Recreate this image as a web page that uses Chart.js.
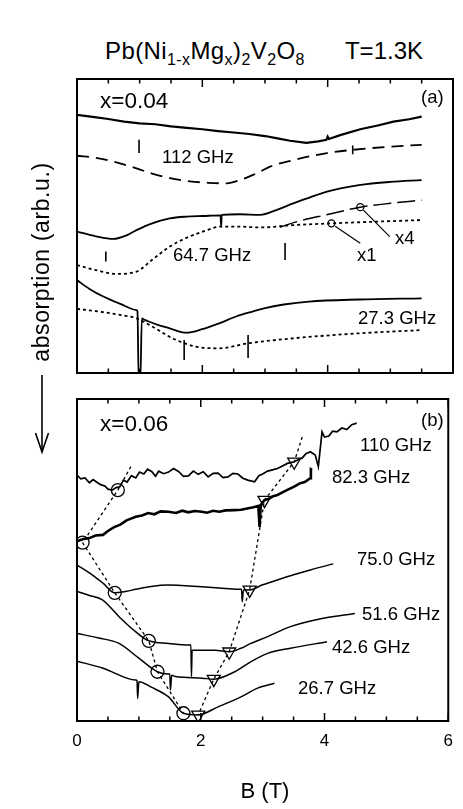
<!DOCTYPE html>
<html>
<head>
<meta charset="utf-8">
<script src="https://cdn.jsdelivr.net/npm/chart.js@4.4.1/dist/chart.umd.min.js"></script>
<style>
  body { margin: 0; background: #fff; }
  #wrap { position: relative; width: 463px; height: 809px; overflow: hidden;
          font-family: "Liberation Sans", Arial, sans-serif; color: #000; }
  canvas { position: absolute; left: 0; }
  .lbl { position: absolute; white-space: nowrap; line-height: 1; transform: translateY(-50%); font-size: 18.5px; }
  .big { font-size: 22.5px; }
  #title { position: absolute; left: 105px; top: 39px; font-size: 24px; letter-spacing: 0.4px; line-height: 1; white-space: nowrap; }
  #title sub { font-size: 16px; vertical-align: -6px; line-height: 0; }
  #temp { position: absolute; right: 40px; top: 39px; font-size: 24px; line-height: 1; }
  #ylab { position: absolute; left: 41px; top: 262px; font-size: 23px; letter-spacing: 0.6px; white-space: nowrap;
          transform: translate(-50%, -50%) rotate(-90deg); line-height: 1; }
  #xlab { position: absolute; left: 265px; top: 791px; font-size: 22px; transform: translate(-50%, -50%); line-height: 1; }
  #arrow { position: absolute; left: 0; top: 0; }
</style>
</head>
<body>
<div id="wrap">
  <div id="title">Pb(Ni<sub>1-x</sub>Mg<sub>x</sub>)<sub>2</sub>V<sub>2</sub>O<sub>8</sub></div>
  <div id="temp">T=1.3K</div>
  <canvas id="chartA" width="463" height="380" style="top:0"></canvas>
  <canvas id="chartB" width="463" height="429" style="top:380px"></canvas>
  <div id="ylab">absorption (arb.u.)</div>
  <svg id="arrow" width="80" height="470">
    <line x1="42" y1="375" x2="42" y2="452" stroke="#000" stroke-width="1.6"/>
    <polyline points="35.5,433 42,452 48.5,433" fill="none" stroke="#000" stroke-width="1.6"/>
  </svg>
  <div id="xlab">B (T)</div>

  <div class="lbl big" style="left:100px; top:101px">x=0.04</div>
  <div class="lbl" style="left:421px; top:97px">(a)</div>
  <div class="lbl" style="left:162px; top:157px">112 GHz</div>
  <div class="lbl" style="left:173px; top:255px">64.7 GHz</div>
  <div class="lbl" style="left:357px; top:255px">x1</div>
  <div class="lbl" style="left:395px; top:238px">x4</div>
  <div class="lbl" style="left:358px; top:318px">27.3 GHz</div>

  <div class="lbl big" style="left:100px; top:424px">x=0.06</div>
  <div class="lbl" style="left:421px; top:420px">(b)</div>
  <div class="lbl" style="left:360px; top:445px">110 GHz</div>
  <div class="lbl" style="left:332px; top:477px">82.3 GHz</div>
  <div class="lbl" style="left:357px; top:559px">75.0 GHz</div>
  <div class="lbl" style="left:362px; top:614px">51.6 GHz</div>
  <div class="lbl" style="left:332px; top:647px">42.6 GHz</div>
  <div class="lbl" style="left:298px; top:688px">26.7 GHz</div>
</div>

<script>
// field axis (T)
const fieldTicks = [0, 0.5, 1, 1.5, 2, 2.5, 3, 3.5, 4, 4.5, 5, 5.5, 6];
const fieldLabels = [0, 2, 4, 6];

// ---- panel (a), x=0.04 : [B, absorption] ----
const a112Exp = [[0,87.8],[0.25,87.1],[0.5,86.4],[0.75,85.5],[1,84.9],[1.25,84.6],[1.5,83.9],[1.75,83.4],[2,82.9],[2.25,82.3],[2.5,81.8],[2.75,81.3],[3,80.6],[3.2,79.8],[3.4,79.0],[3.66,78.3],[3.85,78.8],[3.98,79.3],[4.0,80.4],[4.02,79.6],[4.2,80.9],[4.52,82.9],[4.8,84.2],[5.05,85.5],[5.3,86.3],[5.5,87.2]];
const a112Calc = [[0,73.9],[0.3,73.2],[0.6,71.8],[0.95,69.6],[1.2,67.8],[1.48,66.3],[1.8,65.2],[2.1,64.7],[2.39,64.5],[2.6,65.6],[2.8,67.3],[2.92,68.5],[3.08,70.2],[3.45,72.4],[3.99,74.8],[4.4,75.9],[5.0,77.0],[5.5,77.6]];
const a64Exp = [[0,48.1],[0.3,46.5],[0.58,45.6],[0.8,46.9],[0.95,48.6],[1.2,50.9],[1.48,52.6],[1.75,53.2],[2.01,53.4],[2.29,53.6],[2.3,49.8],[2.31,53.8],[2.6,54.0],[2.92,53.8],[3.2,55.6],[3.45,57.7],[3.7,59.6],[3.99,61.7],[4.5,63.9],[5.0,65.0],[5.5,65.6]];
const a64Calc = [[0,36.7],[0.3,35.0],[0.63,33.7],[0.95,34.5],[1.2,38.5],[1.48,43.0],[1.75,46.0],[2.01,48.1],[2.3,49.8],[2.6,49.8],[2.92,49.5],[3.45,50.3],[4.06,50.9],[4.8,51.5],[5.5,52.0]];
const a64CalcX4 = [[3.24,49.6],[3.5,51.4],[4.0,53.9],[4.52,56.4],[5.0,57.7],[5.5,58.8]];
const a27Exp = [[0,31.6],[0.2,28.6],[0.42,26.0],[0.7,23.4],[0.95,21.4],[0.965,21.0],[0.985,-3],[1.01,-3],[1.035,18.6],[1.06,18.3],[1.3,16.3],[1.48,15.2],[1.74,13.7],[2.0,14.9],[2.27,16.9],[2.55,19.3],[2.8,20.9],[3.0,22.1],[3.3,23.3],[3.7,24.3],[4.5,25.0],[5.5,25.4]];
const a27Calc = [[0,21.8],[0.35,20.9],[0.7,19.7],[0.95,18.6],[1.2,15.8],[1.48,12.3],[1.7,10.2],[1.91,8.9],[2.27,8.4],[2.73,10.1],[3.45,11.8],[4.5,13.5],[5.5,14.6]];
// resonance markers: field, top, bottom
const markB = [0.99, 4.4, 0.46, 3.32, 1.71, 2.73];
const markTop = [79.3, 77.4, 41.3, 44.2, 11.2, 12.9];
const markBottom = [74.8, 74.4, 37.9, 38.4, 4.4, 5.1];
// scale-factor circles and leaders
const scaleCircles = [[4.06,50.9],[4.52,56.4]];
const leaderX1 = [[4.12,49.9],[4.52,44.1]];
const leaderX4 = [[4.57,55.4],[4.99,46.4]];

// ---- panel (b), x=0.06 ----
const b110 = [[0,76.4],[0.06,75.2],[0.13,75.5],[0.2,74.0],[0.26,75.0],[0.31,74.3],[0.38,73.4],[0.45,73.0],[0.5,72.0],[0.57,71.7],[0.63,72.5],[0.69,72.7],[0.75,74.8],[0.81,74.2],[0.88,76.2],[0.95,75.5],[1.01,77.3],[1.08,76.7],[1.14,78.2],[1.21,77.4],[1.27,76.0],[1.32,77.6],[1.4,76.8],[1.48,77.3],[1.56,78.4],[1.64,77.5],[1.72,76.0],[1.8,76.1],[1.88,77.6],[1.96,76.6],[2.04,77.4],[2.12,75.8],[2.2,76.9],[2.28,77.0],[2.36,75.6],[2.44,75.8],[2.52,76.9],[2.6,76.7],[2.68,75.4],[2.76,74.8],[2.87,74.3],[2.94,76.2],[3.0,76.7],[3.08,77.6],[3.16,78.0],[3.24,78.4],[3.32,79.2],[3.4,80.0],[3.51,80.5],[3.58,81.2],[3.64,81.7],[3.7,83.0],[3.77,83.6],[3.85,82.6],[3.9,79.0],[3.96,89.8],[4.0,88.2],[4.07,88.5],[4.13,90.0],[4.2,89.8],[4.28,91.0],[4.36,90.5],[4.44,92.0],[4.52,92.5]];
const b82 = [[0,55.8],[0.1,56.5],[0.2,56.8],[0.3,57.6],[0.42,57.8],[0.5,59.0],[0.6,60.2],[0.7,61.0],[0.8,62.3],[0.95,63.4],[1.05,63.8],[1.15,64.6],[1.25,64.2],[1.35,65.1],[1.48,65.0],[1.6,64.6],[1.7,65.3],[1.8,64.8],[1.9,65.2],[2.02,65.0],[2.1,64.7],[2.2,65.3],[2.3,65.0],[2.4,65.4],[2.55,65.5],[2.65,65.6],[2.75,66.0],[2.85,66.4],[2.93,66.8],[2.95,60.3],[2.97,67.1],[3.03,68.6],[3.1,69.0],[3.17,69.8],[3.24,70.2],[3.32,71.0],[3.4,71.8],[3.51,72.8],[3.6,73.8],[3.68,74.2],[3.77,75.4],[3.78,78.2],[3.8,78.0]];
const b75 = [[0,48.4],[0.2,46.0],[0.42,42.8],[0.61,39.8],[0.8,40.3],[0.95,40.9],[1.2,41.8],[1.48,42.2],[1.75,42.0],[2.02,41.7],[2.3,41.3],[2.6,40.9],[2.66,40.9],[2.67,37.0],[2.69,40.7],[2.79,40.7],[3.0,42.3],[3.24,43.8],[3.5,45.4],[3.77,46.9],[4.14,48.8]];
const b51 = [[0,40.2],[0.2,39.0],[0.41,37.6],[0.68,32.4],[0.9,28.5],[1.16,24.9],[1.48,24.1],[1.8,23.6],[1.84,23.6],[1.85,13.8],[1.86,22.0],[1.91,22.0],[2.23,22.0],[2.46,21.5],[2.65,22.6],[2.81,24.1],[3.08,26.2],[3.45,29.3],[3.98,31.9],[4.49,33.4]];
const b42 = [[0,27.2],[0.35,25.8],[0.68,24.1],[1.0,19.5],[1.3,15.3],[1.48,14.6],[1.5,14.6],[1.51,9.6],[1.53,14.2],[1.59,13.8],[2.02,13.3],[2.21,13.0],[2.55,15.3],[2.8,18.3],[3.08,21.0],[3.45,22.6],[4.04,24.6]];
const b26 = [[0,18.6],[0.42,16.4],[0.95,12.7],[0.97,12.5],[0.98,7.0],[1.0,12.2],[1.2,10.5],[1.48,7.5],[1.72,2.4],[1.96,1.9],[2.28,4.4],[2.65,7.5],[2.92,10.2],[3.19,11.7]];
// resonance branches
const circleBranch = [[0.87,79.0],[0.66,71.7],[0.09,55.4],[0.61,39.8],[1.16,24.9],[1.30,15.3],[1.72,2.4]];
const circleMarks = [[0.66,71.7],[0.09,55.4],[0.61,39.8],[1.16,24.9],[1.30,15.3],[1.72,2.4]];
const triangleBranch = [[3.64,88.2],[3.51,80.5],[3.03,68.6],[2.79,40.7],[2.46,21.5],[2.21,13.0],[1.96,1.9]];
const triangleMarks = [[3.51,80.5],[3.03,68.6],[2.79,40.7],[2.46,21.5],[2.21,13.0],[1.96,1.9]];

const font = '"Liberation Sans", Arial, sans-serif';
const pts = arr => arr.map(([x, y]) => ({ x, y }));

function curve(data, opts) {
  return Object.assign({
    data: pts(data), borderColor: "#000", borderWidth: 1.8, pointRadius: 0,
    fill: false, tension: 0
  }, opts);
}

function markers(style, data, r, rot) {
  return {
    data: pts(data), showLine: false, pointStyle: style, pointRadius: r, pointRotation: rot || 0,
    pointBorderWidth: 1.3, pointBorderColor: "#000", pointBackgroundColor: "rgba(0,0,0,0)"
  };
}

// box + inside ticks top and bottom
const frame = {
  id: "frame",
  afterDatasetsDraw(chart) {
    const { ctx, chartArea: a, scales: { x } } = chart;
    ctx.save();
    ctx.strokeStyle = "#000";
    ctx.lineWidth = 2;
    ctx.strokeRect(a.left, a.top, a.right - a.left, a.bottom - a.top);
    ctx.lineWidth = 1.5;
    fieldTicks.forEach(v => {
      const px = x.getPixelForValue(v);
      const len = v % 2 === 0 ? 8 : 4.5;
      ctx.beginPath();
      ctx.moveTo(px, a.bottom); ctx.lineTo(px, a.bottom - len);
      ctx.moveTo(px, a.top); ctx.lineTo(px, a.top + len);
      ctx.stroke();
    });
    ctx.restore();
  }
};

const markData = [];
markB.forEach((b, i) => {
  markData.push([b, markTop[i]], [b, markBottom[i]], [b, null]);
});

const baseOpts = (xAxis, padding) => ({
  responsive: false,
  animation: false,
  layout: { padding },
  plugins: { legend: { display: false }, tooltip: { enabled: false } },
  scales: {
    x: xAxis,
    y: { min: 0, max: 100, display: false }
  }
});

new Chart(document.getElementById("chartA"), {
  type: "line",
  data: {
    datasets: [
      markers("circle", scaleCircles, 3.5),
      curve(leaderX1, { borderWidth: 1.2 }),
      curve(leaderX4, { borderWidth: 1.2 }),
      curve(markData, { borderWidth: 1.6, spanGaps: false }),
      curve(a112Exp, { borderWidth: 2.2 }),
      curve(a112Calc, { borderDash: [12, 7], cubicInterpolationMode: "monotone" }),
      curve(a64Exp, { cubicInterpolationMode: "monotone" }),
      curve(a64Calc, { borderDash: [3, 3], cubicInterpolationMode: "monotone" }),
      curve(a64CalcX4, { borderDash: [18, 6], borderWidth: 1.5, cubicInterpolationMode: "monotone" }),
      curve(a27Exp, { cubicInterpolationMode: "monotone" }),
      curve(a27Calc, { borderDash: [3, 3], cubicInterpolationMode: "monotone" })
    ]
  },
  options: baseOpts({ type: "linear", min: 0, max: 6, display: false },
    { left: 77, right: 10, top: 79, bottom: 7 }),
  plugins: [frame]
});

new Chart(document.getElementById("chartB"), {
  type: "line",
  data: {
    datasets: [
      markers("circle", circleMarks, 6.5),
      markers("triangle", triangleMarks, 7.5, 180),
      curve(circleBranch, { borderDash: [3, 3], borderWidth: 1.3 }),
      curve(triangleBranch, { borderDash: [3, 3], borderWidth: 1.3 }),
      curve(b110, { borderWidth: 1.7 }),
      curve(b82, { borderWidth: 2.6 }),
      curve(b75, { borderWidth: 1.5, cubicInterpolationMode: "monotone" }),
      curve(b51, { borderWidth: 1.5, cubicInterpolationMode: "monotone" }),
      curve(b42, { borderWidth: 1.5, cubicInterpolationMode: "monotone" }),
      curve(b26, { borderWidth: 1.5, cubicInterpolationMode: "monotone" })
    ]
  },
  options: baseOpts({
    type: "linear", min: 0, max: 6,
    grid: { display: false, drawTicks: false },
    border: { display: false },
    afterBuildTicks: s => { s.ticks = fieldLabels.map(v => ({ value: v })); },
    afterFit: s => { s.height = 40; },
    ticks: { color: "#000", font: { family: font, size: 17 }, padding: 10, maxRotation: 0, autoSkip: false }
  }, { left: 77, right: 10, top: 19, bottom: 48 }),
  plugins: [frame]
});
</script>
</body>
</html>
